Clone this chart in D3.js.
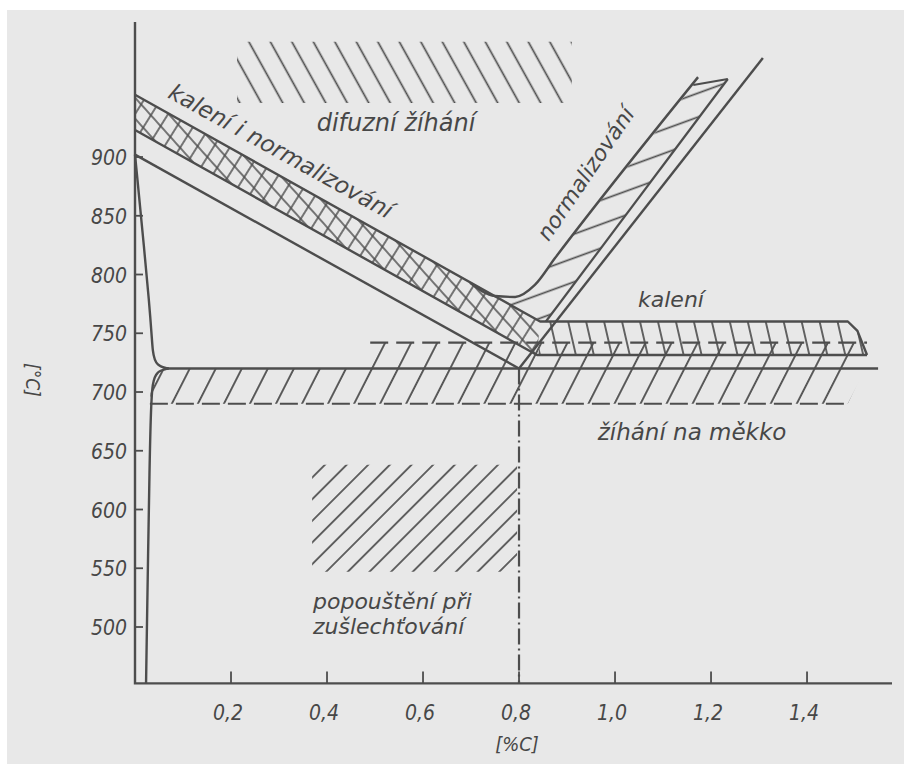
<!DOCTYPE html>
<html>
<head>
<meta charset="utf-8">
<script src="https://cdn.jsdelivr.net/npm/d3@7/dist/d3.min.js"></script>
<style>
  body { margin: 0; background: #fff; }
  svg { display: block; }
  text { font-family: "DejaVu Sans", sans-serif; font-style: italic; fill: #474747; }
  text.tick { font-family: "DejaVu Sans Condensed", "DejaVu Sans", sans-serif; font-stretch: condensed; }
</style>
</head>
<body>
<div id="chart"></div>
<script>
// axis ticks
const yTicks = [500, 550, 600, 650, 700, 750, 800, 850, 900];
const xTicks = [0.2, 0.4, 0.6, 0.8, 1.0, 1.2, 1.4];
const xTickLabels = ['0,2', '0,4', '0,6', '0,8', '1,0', '1,2', '1,4'];

// lines of the diagram, [%C, °C]
const gpLine = [[0, 902], [0.034, 760], [0.036, 733], [0.045, 722], [0.07, 720]];
const pqLine = [[0.07, 720], [0.045, 718], [0.036, 707], [0.034, 690], [0.031, 660], [0.023, 452]];
const a1Line = [[0.06, 720], [1.548, 720]];
const gsLine = [[0, 902], [0.8, 720]];
const hardenTop = [[0, 953], [0.844, 760], [1.485, 760], [1.505, 752], [1.525, 731.5]];
const hardenBottom = [[0, 923], [0.8375, 731.5], [1.525, 731.5]];
const normLeft = [[0.698, 793], [0.75, 781.7], [0.792, 780.9], [0.833, 791.1], [0.875, 814], [1.173, 968]];
const normMiddle = [[1.235, 966.4], [0.856, 760]];
const normCap = [[1.163, 961.3], [1.235, 966.4]];
const acmLine = [[1.308, 984.3], [0.8, 720]];
const softTop = [[0.49, 742], [1.525, 742]];
const softBottom = [[0.031, 690], [1.485, 690]];
const eutectoid = [[0.8, 720], [0.8, 452]];

// hatched areas
const crossArea = [[0, 953], [0.844, 760], [0.8375, 731.5], [0, 923]];
const normArea = [[0.75, 781.5], [0.792, 780.9], [0.833, 791.1], [0.875, 814], [1.163, 961.3], [1.235, 966.4], [0.856, 760], [0.844, 760]];
const hardenArea = [[0.85, 760], [1.485, 760], [1.505, 752], [1.525, 731.5], [0.84, 731.5]];
const softArea = [[0.036, 720], [0.49, 720], [0.49, 742], [1.545, 742], [1.485, 690], [0.031, 690]];
const diffArea = [[0.2125, 998], [0.91, 998], [0.91, 946], [0.2125, 946]];
const temperArea = [[0.369, 638], [0.796, 638], [0.796, 547], [0.369, 547]];

const width = 904, height = 764;
const ink = '#4d4d4d';

const svg = d3.select('#chart').append('svg')
  .attr('width', width)
  .attr('height', height);

svg.append('rect').attr('width', width).attr('height', height).attr('fill', '#fff');
svg.append('rect').attr('x', 7).attr('y', 10).attr('width', width - 7).attr('height', height - 10).attr('fill', '#e8e8e8');

const x = d3.scaleLinear().domain([0, 1.577]).range([135, 892]);
const y = d3.scaleLinear().domain([452, 1015]).range([683.4, 21.9]);

const straight = d3.line().x(d => x(d[0])).y(d => y(d[1]));
const rounded = d3.line().x(d => x(d[0])).y(d => y(d[1])).curve(d3.curveBasis);
const monotone = d3.line().x(d => x(d[0])).y(d => y(d[1])).curve(d3.curveMonotoneX);

// hatch patterns
const defs = svg.append('defs');
function hatch(id, angle, gap, w) {
  const p = defs.append('pattern')
    .attr('id', id)
    .attr('patternUnits', 'userSpaceOnUse')
    .attr('width', gap).attr('height', 40)
    .attr('patternTransform', 'rotate(' + angle + ')');
  p.append('line')
    .attr('x1', gap / 2).attr('x2', gap / 2)
    .attr('y1', 0).attr('y2', 40)
    .attr('stroke', ink).attr('stroke-width', w);
}
hatch('h-diff', -29, 18.8, 1.7);
hatch('h-temper', 45, 15.3, 1.7);
hatch('h-soft', 27, 23.2, 1.8);
hatch('h-harden', -13, 17.5, 1.7);
hatch('h-norm', 70, 22.5, 1.7);
hatch('h-crossA', 32, 14, 1.5);
hatch('h-crossB', -42, 14, 1.5);

function area(pts, id) {
  svg.append('path')
    .attr('d', straight(pts) + 'Z')
    .attr('fill', 'url(#' + id + ')')
    .attr('stroke', 'none');
}
area(diffArea, 'h-diff');
area(temperArea, 'h-temper');
area(softArea, 'h-soft');
area(hardenArea, 'h-harden');
area(normArea, 'h-norm');
area(crossArea, 'h-crossA');
area(crossArea, 'h-crossB');

// axes
svg.append('path').attr('d', straight([[0, 1015], [0, 452], [1.577, 452]]))
  .attr('fill', 'none').attr('stroke', ink).attr('stroke-width', 2.4);

svg.selectAll('.ytick').data(yTicks).enter().append('line')
  .attr('x1', x(0)).attr('x2', x(0) + 8)
  .attr('y1', d => y(d)).attr('y2', d => y(d))
  .attr('stroke', ink).attr('stroke-width', 1.8);

svg.selectAll('.xtick').data(xTicks).enter().append('line')
  .attr('x1', d => x(d)).attr('x2', d => x(d))
  .attr('y1', y(452)).attr('y2', y(452) - 12)
  .attr('stroke', ink).attr('stroke-width', 1.8);

svg.selectAll('.ylab').data(yTicks).enter().append('text')
  .attr('class', 'tick')
  .attr('x', 127).attr('y', d => y(d) + 8)
  .attr('text-anchor', 'end')
  .attr('font-size', 21)
  .text(d => d);

svg.selectAll('.xlab').data(xTicks).enter().append('text')
  .attr('class', 'tick')
  .attr('x', d => x(d) - 3).attr('y', 720)
  .attr('text-anchor', 'middle')
  .attr('font-size', 21)
  .text((d, i) => xTickLabels[i]);

svg.append('text').attr('class', 'tick').attr('x', 517).attr('y', 751).attr('text-anchor', 'middle')
  .attr('font-size', 20).attr('font-style', 'normal').text('[%C]');
svg.append('text').attr('class', 'tick').attr('transform', 'translate(26,380) rotate(90)').attr('text-anchor', 'middle')
  .attr('font-size', 19).attr('font-style', 'normal').text('[°C]');

// diagram lines
function draw(pts, gen, w, dash) {
  svg.append('path')
    .attr('d', gen(pts))
    .attr('fill', 'none')
    .attr('stroke', ink)
    .attr('stroke-width', w)
    .attr('stroke-linejoin', 'round')
    .attr('stroke-dasharray', dash || null);
}
draw(gpLine, rounded, 2.4);
draw(pqLine, rounded, 2.4);
draw(a1Line, straight, 2.4);
draw(gsLine, straight, 2.4);
draw(hardenTop, straight, 2.4);
draw(hardenBottom, straight, 2.4);
draw(normLeft, monotone, 2.4);
draw(normMiddle, straight, 2.2);
draw(normCap, straight, 2.0);
draw(acmLine, straight, 2.4);
draw(softTop, straight, 2.2, '18,8');
draw(softBottom, straight, 2.2, '18,8');
draw(eutectoid, straight, 2.2, '16,4,2,4');

// region labels
function label(txt, px, py, angle, size, anchor) {
  svg.append('text')
    .attr('transform', 'translate(' + px + ',' + py + ') rotate(' + angle + ')')
    .attr('text-anchor', anchor || 'middle')
    .attr('font-size', size)
    .text(txt);
}
label('difuzní žíhání', 396, 131, 0, 24);
label('kalení i normalizování', 277, 158, 29, 23);
label('normalizování', 592, 178, -56, 22);
label('kalení', 671, 307, 0, 22);
label('žíhání na měkko', 692, 440, 0, 23);
label('popouštění při', 313, 609, 0, 22, 'start');
label('zušlechťování', 313, 634, 0, 22, 'start');
</script>
</body>
</html>
